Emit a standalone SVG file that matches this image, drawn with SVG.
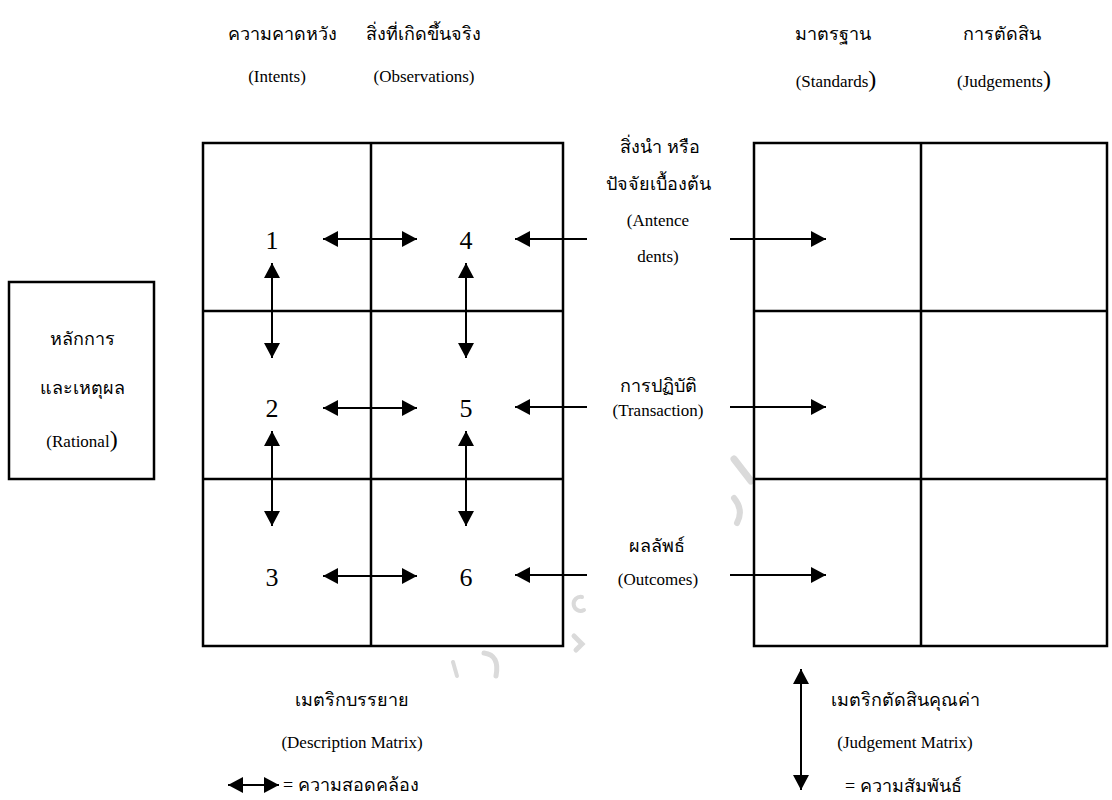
<svg xmlns="http://www.w3.org/2000/svg" width="1112" height="800" viewBox="0 0 1112 800">
<defs>
<marker id="ah" markerUnits="userSpaceOnUse" markerWidth="16" markerHeight="16" refX="15" refY="8" orient="auto-start-reverse" viewBox="0 0 16 16">
<path d="M0,0 L15,8 L0,16 z" fill="#000"/>
</marker>
</defs>
<style>
.box{fill:#fff;stroke:#000;stroke-width:2.5}
.ln{stroke:#000;stroke-width:2.5;fill:none}
.ar{stroke:#000;stroke-width:2;fill:none}
.dbl{marker-start:url(#ah);marker-end:url(#ah)}
.one{marker-end:url(#ah)}
.wm{stroke:#dadada;fill:none;stroke-linecap:round}
text{font-family:"Liberation Serif","DejaVu Serif",serif;fill:#000}
.th{font-size:18px}
.en{font-size:17px}
.num{font-size:26px}
.c{text-anchor:middle}
</style>
<rect width="1112" height="800" fill="#fff"/>

<g id="headers">
<text class="th c" x="282" y="40">ความคาดหวัง</text>
<text class="en c" x="277" y="82">(Intents)</text>
<text class="th c" x="423" y="40">สิ่งที่เกิดขึ้นจริง</text>
<text class="en c" x="424" y="82">(Observations)</text>
<text class="th c" x="833" y="40">มาตรฐาน</text>
<text class="en c" x="836" y="87">(Standards<tspan font-size="24px">)</tspan></text>
<text class="th c" x="1002" y="40">การตัดสิน</text>
<text class="en c" x="1004" y="87">(Judgements<tspan font-size="24px">)</tspan></text>
</g>

<g id="rational">
<rect class="box" x="9" y="282" width="145" height="197"/>
<text class="th c" x="82" y="345">หลักการ</text>
<text class="th c" x="82" y="394">และเหตุผล</text>
<text class="en c" x="82" y="447">(Rational<tspan font-size="24px">)</tspan></text>
</g>

<g id="description-matrix">
<rect class="box" x="203" y="143" width="360" height="503"/>
<line class="ln" x1="371" y1="143" x2="371" y2="646"/>
<line class="ln" x1="203" y1="311" x2="563" y2="311"/>
<line class="ln" x1="203" y1="479" x2="563" y2="479"/>
<text class="num c" x="272" y="249">1</text>
<text class="num c" x="466" y="249">4</text>
<text class="num c" x="272" y="417">2</text>
<text class="num c" x="466" y="417">5</text>
<text class="num c" x="272" y="586">3</text>
<text class="num c" x="466" y="586">6</text>
</g>

<g id="watermark">
<path class="wm" stroke-width="4" d="M453,662 L457,676"/>
<path class="wm" stroke-width="5" d="M484,653 Q500,655 496,676"/>
<path class="wm" stroke-width="4" d="M582,597 A7,7 0 1,0 584,610"/>
<path class="wm" stroke-width="5" d="M574,636 L582,644 L576,650"/>
<path class="wm" stroke-width="7" d="M734,459 L751,481"/>
<path class="wm" stroke-width="6" d="M734,498 Q744,510 737,523"/>
</g>

<g id="judgement-matrix">
<rect class="box" x="754" y="143" width="353" height="503"/>
<line class="ln" x1="921" y1="143" x2="921" y2="646"/>
<line class="ln" x1="754" y1="311" x2="1107" y2="311"/>
<line class="ln" x1="754" y1="479" x2="1107" y2="479"/>
</g>

<g id="row-labels">
<text class="th c" x="660" y="153">สิ่งนำ หรือ</text>
<text class="th c" x="658" y="190">ปัจจัยเบื้องต้น</text>
<text class="en c" x="658" y="226">(Antence</text>
<text class="en c" x="658" y="262">dents)</text>
<text class="th c" x="658" y="392">การปฏิบัติ</text>
<text class="en c" x="658" y="416">(Transaction)</text>
<text class="th c" x="657" y="552">ผลลัพธ์</text>
<text class="en c" x="658" y="585">(Outcomes)</text>
</g>

<g id="connectors">
<line class="ar dbl" x1="323" y1="239" x2="417" y2="239"/>
<line class="ar dbl" x1="323" y1="408" x2="417" y2="408"/>
<line class="ar dbl" x1="323" y1="576" x2="417" y2="576"/>
<line class="ar dbl" x1="272" y1="263" x2="272" y2="358"/>
<line class="ar dbl" x1="272" y1="431" x2="272" y2="526"/>
<line class="ar dbl" x1="466" y1="263" x2="466" y2="358"/>
<line class="ar dbl" x1="466" y1="431" x2="466" y2="526"/>
<line class="ar one" x1="587" y1="239" x2="515" y2="239"/>
<line class="ar one" x1="587" y1="407" x2="515" y2="407"/>
<line class="ar one" x1="587" y1="575" x2="515" y2="575"/>
<line class="ar one" x1="730" y1="239" x2="826" y2="239"/>
<line class="ar one" x1="730" y1="407" x2="826" y2="407"/>
<line class="ar one" x1="730" y1="575" x2="826" y2="575"/>
</g>

<g id="legend">
<text class="th c" x="352" y="706">เมตริกบรรยาย</text>
<text class="en c" x="352" y="748">(Description Matrix)</text>
<line class="ar dbl" x1="228" y1="785" x2="279" y2="785"/>
<text class="th" x="283" y="791">= ความสอดคล้อง</text>
<text class="th c" x="905" y="706">เมตริกตัดสินคุณค่า</text>
<text class="en c" x="905" y="748">(Judgement Matrix)</text>
<line class="ar dbl" x1="801" y1="669" x2="801" y2="790"/>
<text class="th" x="845" y="792">= ความสัมพันธ์</text>
</g>
</svg>
